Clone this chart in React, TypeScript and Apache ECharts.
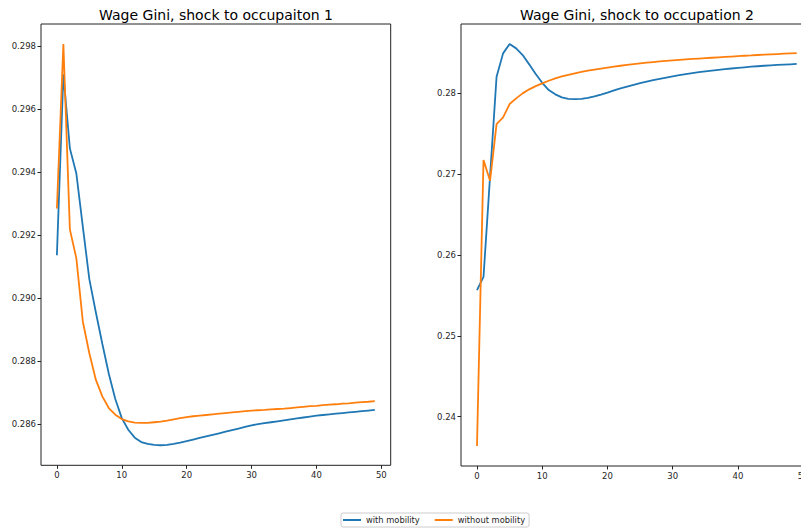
import React, { useEffect, useRef } from "react";
import * as echarts from "echarts";

const periods = [
  0, 1, 2, 3, 4, 5, 6, 7, 8, 9, 10, 11, 12, 13, 14, 15, 16, 17, 18, 19, 20, 21, 22, 23, 24,
  25, 26, 27, 28, 29, 30, 31, 32, 33, 34, 35, 36, 37, 38, 39, 40, 41, 42, 43, 44, 45, 46, 47, 48, 49,
];

const occ1WithMobility = [
  0.29136, 0.2971, 0.29475, 0.29395, 0.29226, 0.2906, 0.28955, 0.28855, 0.2876, 0.2868,
  0.28619, 0.28582, 0.28557, 0.28543, 0.28537, 0.28534, 0.28533, 0.28534, 0.28537, 0.28541,
  0.28546, 0.28551, 0.28556, 0.28561, 0.28566, 0.28571, 0.28576, 0.28581, 0.28586, 0.28591,
  0.28596, 0.286, 0.28603, 0.28606, 0.28609, 0.28612, 0.28615, 0.28618, 0.28621, 0.28624,
  0.28627, 0.28629, 0.28631, 0.28633, 0.28635, 0.28637, 0.28639, 0.28641, 0.28643, 0.28645,
];

const occ1WithoutMobility = [
  0.29284, 0.29806, 0.29218, 0.29126, 0.28925, 0.28825, 0.28741, 0.28688, 0.28651, 0.2863,
  0.28616, 0.28609, 0.28605, 0.28604, 0.28604, 0.28606, 0.28608, 0.28611, 0.28615, 0.28619,
  0.28622, 0.28625, 0.28627, 0.28629, 0.28631, 0.28633, 0.28635, 0.28637, 0.28639, 0.28641,
  0.28643, 0.28644, 0.28645, 0.28647, 0.28648, 0.28649, 0.28651, 0.28653, 0.28655, 0.28657,
  0.28658, 0.2866, 0.28662, 0.28663, 0.28665, 0.28666, 0.28668, 0.2867, 0.28671, 0.28673,
];

const occ2WithMobility = [
  0.25566, 0.2573, 0.26968, 0.28205, 0.28495, 0.2861, 0.28557, 0.28474, 0.28359, 0.28239,
  0.28131, 0.28041, 0.27988, 0.2795, 0.27933, 0.27929, 0.27933, 0.27944, 0.27962, 0.27985,
  0.2801, 0.28036, 0.28062, 0.28085, 0.28106, 0.28126, 0.28145, 0.28163, 0.2818, 0.28196,
  0.28211, 0.28225, 0.28238, 0.2825, 0.28262, 0.28272, 0.28282, 0.28291, 0.283, 0.28308,
  0.28316, 0.28323, 0.2833, 0.28336, 0.28342, 0.28347, 0.28352, 0.28356, 0.2836, 0.28364,
];

const occ2WithoutMobility = [
  0.23637, 0.27175, 0.26918, 0.2762, 0.27703, 0.27868, 0.27938, 0.28, 0.2805, 0.2809,
  0.28124, 0.28156, 0.28186, 0.2821, 0.2823, 0.28249, 0.28266, 0.28281, 0.28294, 0.28306,
  0.28318, 0.2833, 0.28342, 0.28352, 0.28362, 0.28371, 0.2838, 0.28388, 0.28395, 0.28402,
  0.28408, 0.28414, 0.2842, 0.28426, 0.28431, 0.28436, 0.28441, 0.28446, 0.28451, 0.28456,
  0.28461, 0.28466, 0.2847, 0.28475, 0.28479, 0.28483, 0.28487, 0.28491, 0.28495, 0.28499,
];

const xTicks = [0, 10, 20, 30, 40, 50];
const yTicksLeft = [0.286, 0.288, 0.29, 0.292, 0.294, 0.296, 0.298];
const yTicksRight = [0.24, 0.25, 0.26, 0.27, 0.28];
const titles = ["Wage Gini, shock to occupaiton 1", "Wage Gini, shock to occupation 2"];
const seriesNames = ["with mobility", "without mobility"];
const colors = ["#1f77b4", "#ff7f0e"];

const FONT = "'DejaVu Sans', sans-serif";
const TEXT = "#262626";
const AXIS = "#222";

function pairs(values: number[]) {
  return periods.map((p, i) => [p, values[i]]);
}

function padRange(arrs: number[][]) {
  const all = arrs.flat();
  const lo = Math.min(...all);
  const hi = Math.max(...all);
  const m = (hi - lo) * 0.05;
  return [lo - m, hi + m];
}

export default function App() {
  const ref = useRef<HTMLDivElement>(null);
  useEffect(() => {
    if (!ref.current) return;
    const chart = echarts.init(ref.current, null, { renderer: "svg" });
    const xSpan = periods[periods.length - 1] - periods[0];
    const xMin = periods[0] - xSpan * 0.05;
    const xMax = periods[periods.length - 1] + xSpan * 0.05;
    const [l0, l1] = padRange([occ1WithMobility, occ1WithoutMobility]);
    const [r0, r1] = padRange([occ2WithMobility, occ2WithoutMobility]);

    const xAxisBase = (gridIndex: number) => ({
      type: "value" as const,
      gridIndex,
      min: xMin,
      max: xMax,
      splitLine: { show: false },
      axisLine: { show: false, onZero: false },
      axisTick: {
        show: true,
        customValues: xTicks,
        length: 3.5,
        lineStyle: { color: AXIS, width: 1 },
      },
      axisLabel: {
        customValues: xTicks,
        formatter: (v: number) => String(v),
        color: TEXT,
        fontSize: 8.5,
        fontFamily: FONT,
        margin: 5,
      },
    });
    const yAxisBase = (gridIndex: number, min: number, max: number, ticks: number[], dec: number) => ({
      type: "value" as const,
      gridIndex,
      min,
      max,
      splitLine: { show: false },
      axisLine: { show: false, onZero: false },
      axisTick: {
        show: true,
        customValues: ticks,
        length: 3.5,
        lineStyle: { color: AXIS, width: 1 },
      },
      axisLabel: {
        customValues: ticks,
        formatter: (v: number) => v.toFixed(dec),
        color: TEXT,
        fontSize: 8.5,
        fontFamily: FONT,
        margin: 5,
      },
    });

    const lineSeries = (name: string, values: number[], idx: number, color: string) => ({
      type: "line" as const,
      name,
      xAxisIndex: idx,
      yAxisIndex: idx,
      data: pairs(values),
      showSymbol: false,
      symbol: "none",
      lineStyle: { color, width: 1.8 },
      itemStyle: { color },
      z: name === seriesNames[0] ? 2 : 3,
    });

    chart.setOption({
      animation: false,
      backgroundColor: "#ffffff",
      textStyle: { fontFamily: FONT },
      grid: [
        {
          left: 41,
          top: 24,
          right: 410.3,
          bottom: 65.7,
          show: true,
          borderColor: AXIS,
          borderWidth: 1,
          backgroundColor: "transparent",
          containLabel: false,
          outerBoundsMode: "none",
        },
        {
          left: 461,
          top: 24,
          right: -11.7,
          bottom: 65,
          show: true,
          borderColor: AXIS,
          borderWidth: 1,
          backgroundColor: "transparent",
          containLabel: false,
          outerBoundsMode: "none",
        },
      ],
      xAxis: [xAxisBase(0), xAxisBase(1)],
      yAxis: [
        yAxisBase(0, l0, l1, yTicksLeft, 3),
        yAxisBase(1, r0, r1, yTicksRight, 2),
      ],
      legend: {
        data: seriesNames,
        left: 341,
        top: 513,
        orient: "horizontal",
        icon: "rect",
        itemWidth: 18,
        itemHeight: 2,
        itemGap: 15,
        padding: [3, 4, 3, 2],
        borderColor: "#cccccc",
        borderWidth: 1,
        borderRadius: 2,
        textStyle: { fontSize: 8.3, color: TEXT, fontFamily: FONT },
      },
      graphic: [
        {
          type: "text",
          x: 216,
          y: 14.5,
          style: {
            text: titles[0],
            fill: "#000",
            fontSize: 14,
            fontFamily: FONT,
            textAlign: "center",
            textVerticalAlign: "middle",
          },
        },
        {
          type: "text",
          x: 637,
          y: 14.5,
          style: {
            text: titles[1],
            fill: "#000",
            fontSize: 14,
            fontFamily: FONT,
            textAlign: "center",
            textVerticalAlign: "middle",
          },
        },
      ],
      series: [
        lineSeries(seriesNames[0], occ1WithMobility, 0, colors[0]),
        lineSeries(seriesNames[1], occ1WithoutMobility, 0, colors[1]),
        lineSeries(seriesNames[0], occ2WithMobility, 1, colors[0]),
        lineSeries(seriesNames[1], occ2WithoutMobility, 1, colors[1]),
      ],
    });
    return () => chart.dispose();
  }, []);
  return (
    <div
      ref={ref}
      style={{ position: "absolute", left: 0, top: 0, width: 801, height: 531 }}
    />
  );
}
